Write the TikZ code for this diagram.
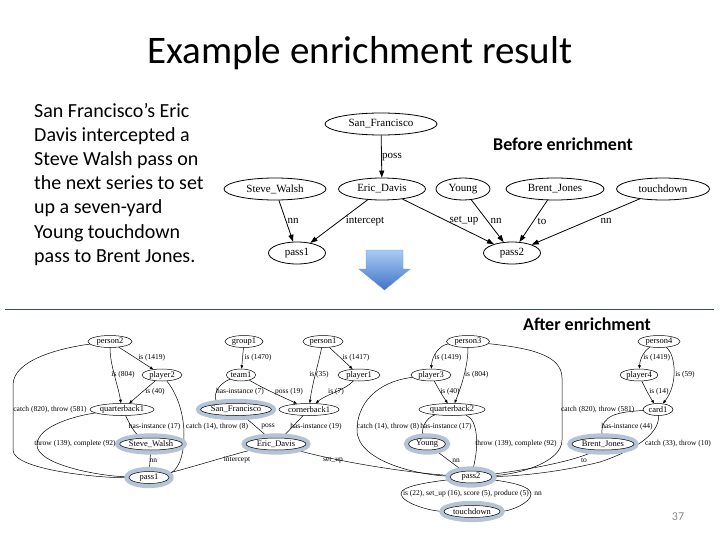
\documentclass[tikz,border=0pt]{standalone}
\usepackage{fontspec}
\setmainfont{Carlito}
\newfontfamily\gvf{Liberation Serif}
\usetikzlibrary{shapes.geometric,arrows.meta,calc}
\pgfdeclarelayer{paperlayer}
\pgfdeclarelayer{edgelayer}
\pgfdeclarelayer{ringlayer}
\pgfsetlayers{paperlayer,edgelayer,ringlayer,main}
\definecolor{hlring}{RGB}{180,196,214}
\definecolor{rulecol}{RGB}{52,78,90}
\definecolor{arrtop}{RGB}{170,202,244}
\definecolor{arrbot}{RGB}{64,116,200}
\definecolor{pagenum}{RGB}{137,137,137}
\tikzset{
  tnode/.style={ellipse, draw, line width=0.8pt, inner sep=0pt, minimum height=22pt, font=\gvf\fontsize{11}{12}\selectfont},
  tedge/.style={draw=black, line width=0.8pt, -{Triangle[length=7pt,width=5pt]}},
  tlab/.style={font=\gvf\fontsize{11}{12}\selectfont, inner sep=0pt},
  bnode/.style={ellipse, draw, line width=0.5pt, inner sep=0pt, minimum height=12pt, font=\gvf\fontsize{8.5}{9}\selectfont},
  bedge/.style={draw=black, line width=0.5pt, -{Triangle[length=3.5pt,width=2.6pt]}},
  blab/.style={font=\gvf\fontsize{7.5}{8}\selectfont, inner sep=0pt},
  bodytext/.style={font=\fontsize{20}{24}\selectfont, anchor=base west, inner sep=0pt},
  heading/.style={font=\bfseries\fontsize{18}{20}\selectfont, anchor=base, inner sep=0pt},
}
\newcommand\ringit[1]{%
  \begin{pgfonlayer}{ringlayer}
  \draw[hlring, line width=4.4pt] let \p1=($(#1.east)-(#1.west)$), \p2=($(#1.north)-(#1.south)$) in
    (#1.center) ellipse [x radius={0.5*\x1+2.2pt}, y radius={0.5*\y2+2.2pt}];
  \end{pgfonlayer}}
\begin{document}
\begin{tikzpicture}[x=1pt,y=-1pt]
\begin{pgfonlayer}{paperlayer}
\fill[white] (0,0) rectangle (720,540);
\end{pgfonlayer}
\useasboundingbox (0,0) rectangle (720,540);

% title and text
\node[font=\fontsize{39}{46}\selectfont, anchor=base, inner sep=0pt] (title) at (360,64) {Example enrichment result};
\node[bodytext] (l1) at (34,118) {San Francisco's Eric};
\node[bodytext] (l2) at (34,142) {Davis intercepted a};
\node[bodytext] (l3) at (34,166) {Steve Walsh pass on};
\node[bodytext] (l4) at (34,190) {the next series to set};
\node[bodytext] (l5) at (34,214) {up a seven-yard};
\node[bodytext] (l6) at (34,238) {Young touchdown};
\node[bodytext] (l7) at (34,262) {pass to Brent Jones.};
\node[heading] (before) at (563,151) {Before enrichment};
\node[heading] (after) at (587,330) {After enrichment};
\node[font=\fontsize{12}{14}\selectfont, text=pagenum, anchor=base, inner sep=0pt] (pnum) at (678,520) {37};

% rule and arrow
\draw[rulecol, line width=1pt] (5,309.5) -- (714,309.5);
\shade[top color=arrtop, bottom color=arrbot, draw=arrbot!60!arrtop, line width=0.4pt]
  (366,250) -- (403,250) -- (403,269) -- (410,269) -- (384.5,290) -- (359,269) -- (366,269) -- cycle;

% ---------- top graph ----------
\node[tnode, minimum width=112pt] (tSF) at (381,124) {San\_Francisco};
\node[tnode, minimum width=102pt] (tSW) at (275,189) {Steve\_Walsh};
\node[tnode, minimum width=87pt] (tED) at (382,189) {Eric\_Davis};
\node[tnode, minimum width=54pt] (tY) at (463,189) {Young};
\node[tnode, minimum width=98pt] (tBJ) at (555,189) {Brent\_Jones};
\node[tnode, minimum width=93pt] (tTD) at (663,189) {touchdown};
\node[tnode, minimum width=57pt] (tP1) at (297,253) {pass1};
\node[tnode, minimum width=57pt] (tP2) at (512,253) {pass2};
\path[tedge] (tSF) -- (tED);
\path[tedge] (tSW) -- (tP1);
\path[tedge] (tED) -- (tP1);
\path[tedge] (tED) -- (tP2);
\path[tedge] (tY) -- (tP2);
\path[tedge] (tBJ) -- (tP2);
\path[tedge] (tTD) -- (tP2);
\node[tlab] (tl1) at (392,157) {poss};
\node[tlab] (tl2) at (293,221) {nn};
\node[tlab] (tl3) at (365,221) {intercept};
\node[tlab] (tl4) at (464,221) {set\_up};
\node[tlab] (tl5) at (496,221) {nn};
\node[tlab] (tl6) at (542,221) {to};
\node[tlab] (tl7) at (606,221) {nn};

% ---------- bottom graph nodes ----------
\node[bnode, minimum width=44pt] (person2) at (110,341.5) {person2};
\node[bnode, minimum width=40pt] (player2) at (162,375) {player2};
\node[bnode, minimum width=64pt] (qbA) at (122,409.5) {quarterback1};
\node[bnode, minimum width=62pt] (bSW) at (151,444) {Steve\_Walsh};
\node[bnode, minimum width=40pt] (bP1) at (149,477.5) {pass1};
\node[bnode, minimum width=38pt] (group1) at (244,341.5) {group1};
\node[bnode, minimum width=28pt] (team1) at (241,375) {team1};
\node[bnode, minimum width=70pt] (bSF) at (236,409.5) {San\_Francisco};
\node[bnode, minimum width=40pt] (person1) at (323,341.5) {person1};
\node[bnode, minimum width=42pt] (player1) at (359,375) {player1};
\node[bnode, minimum width=60pt] (cb1) at (309,409.5) {cornerback1};
\node[bnode, minimum width=60pt] (bED) at (276,444) {Eric\_Davis};
\node[bnode, minimum width=43pt] (person3) at (468,341.5) {person3};
\node[bnode, minimum width=40pt] (player3) at (431,375) {player3};
\node[bnode, minimum width=66pt] (qbB) at (452,409.5) {quarterback2};
\node[bnode, minimum width=37pt] (bY) at (427,444) {Young};
\node[bnode, minimum width=42pt] (bP2) at (471,477) {pass2};
\node[bnode, minimum width=56pt] (bTD) at (472,511.5) {touchdown};
\node[bnode, minimum width=42pt] (person4) at (659,341.5) {person4};
\node[bnode, minimum width=38pt] (player4) at (639,375) {player4};
\node[bnode, minimum width=30pt] (card1) at (658,409.5) {card1};
\node[bnode, minimum width=62pt] (bBJ) at (603,444) {Brent\_Jones};
\ringit{bSW}\ringit{bP1}\ringit{bSF}\ringit{bED}\ringit{bY}\ringit{bP2}\ringit{bTD}\ringit{bBJ}

% ---------- bottom graph edges ----------
\begin{pgfonlayer}{edgelayer}
\path[bedge] (person2) -- (player2);
\path[bedge] (person2) .. controls (110,365) and (118,385) .. (qbA);
\path[bedge] (player2) -- (qbA);
\path[bedge] (person2) .. controls (60,348) and (13,360) .. (13,385) -- (13,450) .. controls (13,470) and (100,478) .. (bP1);
\path[bedge] (qbA) .. controls (128,420) and (133,432) .. (bSW);
\path[bedge] (qbA) .. controls (80,415) and (37,425) .. (37,445) .. controls (37,465) and (100,476) .. (bP1);
\path[bedge] (player2) .. controls (178,395) and (184,415) .. (184,435) .. controls (184,460) and (176,472) .. (bP1);
\path[bedge] (bSW) -- (bP1);
\path[bedge] (group1) -- (team1);
\path[bedge] (team1) .. controls (215,385) and (212,400) .. (bSF);
\path[bedge] (team1) .. controls (262,388) and (285,398) .. (cb1);
\path[bedge] (person1) .. controls (318,365) and (312,385) .. (cb1);
\path[bedge] (person1) -- (player1);
\path[bedge] (player1) .. controls (345,390) and (325,395) .. (cb1);
\path[bedge] (bSF) -- (bED);
\path[bedge] (cb1) -- (bED);
\path[bedge] (bED) .. controls (230,455) and (190,468) .. (bP1);
\path[bedge] (bED) .. controls (330,460) and (400,472) .. (bP2);
\path[bedge] (person3) .. controls (440,345) and (432,355) .. (player3);
\path[bedge] (person3) .. controls (468,365) and (462,385) .. (qbB);
\path[bedge] (player3) .. controls (438,388) and (442,395) .. (qbB);
\path[bedge] (player3) .. controls (375,382) and (357,405) .. (357,430) .. controls (357,462) and (420,475) .. (bP2);
\path[bedge] (qbB) .. controls (425,418) and (421,430) .. (bY);
\path[bedge] (qbB) .. controls (478,420) and (479,445) .. (bP2);
\path[bedge] (bY) -- (bP2);
\path[bedge] (person3) .. controls (530,348) and (562,355) .. (562,378) -- (562,440) .. controls (562,462) and (520,474) .. (bP2);
\path[bedge] (person4) .. controls (645,350) and (640,358) .. (player4);
\path[bedge] (person4) .. controls (676,355) and (678,385) .. (card1);
\path[bedge] (player4) .. controls (646,390) and (650,397) .. (card1);
\path[bedge] (card1) .. controls (620,412) and (600,414) .. (bBJ);
\path[bedge] (card1) .. controls (660,435) and (630,452) .. (600,462) .. controls (560,472) and (520,476) .. (bP2);
\path[bedge] (bBJ) .. controls (585,458) and (540,468) .. (bP2);
\path[bedge] (bP2) .. controls (430,482) and (400,486) .. (401,494) .. controls (402,503) and (430,511) .. (bTD);
\path[bedge] (bP2) .. controls (510,482) and (531,486) .. (531,494) .. controls (531,503) and (510,511) .. (bTD);
\end{pgfonlayer}

% ---------- bottom graph labels ----------
\node[blab] (b1) at (151.7,358) {is (1419)};
\node[blab] (b2) at (123,375) {is (804)};
\node[blab] (b3) at (155,391.7) {is (40)};
\node[blab] (b4) at (50,409.3) {catch (820), throw (581)};
\node[blab] (b5) at (154.7,426.7) {has-instance (17)};
\node[blab] (b6) at (217,426.7) {catch (14), throw (8)};
\node[blab] (b7) at (75,443.7) {throw (139), complete (92)};
\node[blab] (b8) at (153.3,460.7) {nn};
\node[blab] (b9) at (258,358) {is (1470)};
\node[blab] (b10) at (240,391.7) {has-instance (7)};
\node[blab] (b11) at (289,391.7) {poss (19)};
\node[blab] (b12) at (319,375) {is (35)};
\node[blab] (b13) at (356,358) {is (1417)};
\node[blab] (b14) at (336,391.7) {is (7)};
\node[blab] (b15) at (268,426.7) {poss};
\node[blab] (b16) at (316,426.7) {has-instance (19)};
\node[blab] (b17) at (237,460.3) {intercept};
\node[blab] (b18) at (333,460.3) {set\_up};
\node[blab] (b19) at (448,358) {is (1419)};
\node[blab] (b20) at (476.7,375) {is (804)};
\node[blab] (b21) at (450,391.7) {is (40)};
\node[blab] (b22) at (388,426.7) {catch (14), throw (8)};
\node[blab] (b23) at (446,426.7) {has-instance (17)};
\node[blab] (b24) at (516,443.7) {throw (139), complete (92)};
\node[blab] (b25) at (456,461) {nn};
\node[blab] (b26) at (597.7,409.3) {catch (820), throw (581)};
\node[blab] (b27) at (656.7,358) {is (1419)};
\node[blab] (b28) at (685,375) {is (59)};
\node[blab] (b29) at (659,391.7) {is (14)};
\node[blab] (b30) at (627,426.7) {has-instance (44)};
\node[blab] (b31) at (678,443.7) {catch (33), throw (10)};
\node[blab] (b32) at (584,460.3) {to};
\node[blab] (b33) at (466,493.5) {is (22), set\_up (16), score (5), produce (5)};
\node[blab] (b34) at (538,493.5) {nn};
\end{tikzpicture}
\end{document}
